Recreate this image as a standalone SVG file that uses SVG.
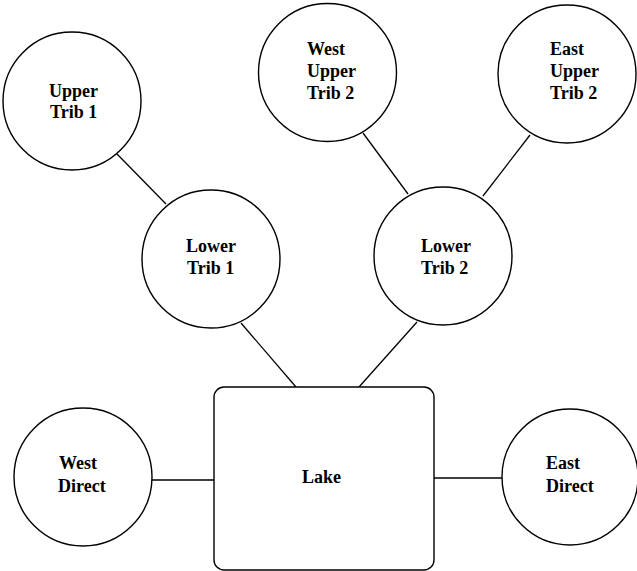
<svg xmlns="http://www.w3.org/2000/svg" width="637" height="571" viewBox="0 0 637 571">
<style>
.n{fill:#fff;stroke:#000;stroke-width:1.4}
.c line{stroke:#000;stroke-width:1.3}
text{font-family:"Liberation Serif","Times New Roman",serif;font-weight:bold;font-size:18px;fill:#000}
</style>
<rect width="637" height="571" fill="#fff"/>
<g class="c" id="connectors">
<line x1="117" y1="154" x2="166" y2="204"/>
<line x1="241" y1="323" x2="296" y2="387"/>
<line x1="363" y1="133" x2="408" y2="194"/>
<line x1="530" y1="135" x2="483" y2="196"/>
<line x1="417" y1="322" x2="359" y2="387"/>
<line x1="152" y1="480" x2="214" y2="480"/>
<line x1="434" y1="478" x2="503" y2="478"/>
</g>
<g id="upper-trib-1"><circle class="n" cx="72" cy="101" r="69"/><text x="49" y="97">Upper</text><text x="50" y="118">Trib 1</text></g>
<g id="west-upper-trib-2"><circle class="n" cx="327.5" cy="72.5" r="69"/><text x="307" y="55">West</text><text x="307" y="77">Upper</text><text x="307" y="99">Trib 2</text></g>
<g id="east-upper-trib-2"><circle class="n" cx="567" cy="74" r="69"/><text x="550" y="55">East</text><text x="550" y="77">Upper</text><text x="550" y="99">Trib 2</text></g>
<g id="lower-trib-1"><circle class="n" cx="211" cy="259" r="69"/><text x="186" y="252">Lower</text><text x="187" y="274">Trib 1</text></g>
<g id="lower-trib-2"><circle class="n" cx="443" cy="256" r="69"/><text x="421" y="252">Lower</text><text x="421" y="274">Trib 2</text></g>
<g id="lake"><rect class="n" x="214" y="387" width="220" height="183" rx="10"/><text x="302" y="483">Lake</text></g>
<g id="west-direct"><circle class="n" cx="83" cy="477" r="69"/><text x="59" y="469">West</text><text x="58" y="492">Direct</text></g>
<g id="east-direct"><circle class="n" cx="570" cy="477" r="68"/><text x="546" y="469">East</text><text x="546" y="492">Direct</text></g>
</svg>
